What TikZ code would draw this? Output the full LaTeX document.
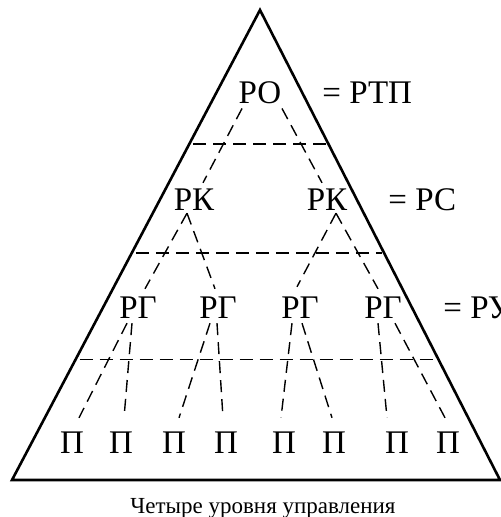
\documentclass[tikz,border=0pt]{standalone}
\usepackage{fontspec}
\setmainfont{Liberation Serif}
\usetikzlibrary{calc}

\begin{document}
\begin{tikzpicture}[
        x=0.5pt,y=-0.5pt,
        font=\fontsize{16.5}{19}\selectfont,
        unit/.style={inner sep=1pt},
        eqlabel/.style={anchor=west,inner sep=0pt},
        link/.style={line width=0.7pt,dash pattern=on 6pt off 3.5pt},
        level/.style={line width=0.7pt,dash pattern=on 6.5pt off 3.5pt},
        frame/.style={line width=1.3pt,line join=miter}
    ]
    \useasboundingbox (0,0) rectangle (500,517);

    \coordinate (apex) at (260,10);
    \coordinate (baseL) at (12,480);
    \coordinate (baseR) at (500,480);
    \draw[frame] (apex) -- (baseR) -- (baseL) -- cycle;

    % level borders
    \coordinate (l1) at ($(apex)!0.285!(baseL)+(4,0)$);
    \coordinate (r1) at ($(apex)!0.285!(baseR)+(-2,0)$);
    \coordinate (l2) at ($(apex)!0.517!(baseL)+(4,0)$);
    \coordinate (r2) at ($(apex)!0.517!(baseR)+(-2,0)$);
    \coordinate (l3) at ($(apex)!0.743!(baseL)+(4,0)$);
    \coordinate (r3) at ($(apex)!0.743!(baseR)+(-2,0)$);
    \draw[level] (l1) -- (r1);
    \draw[level] (l2) -- (r2);
    \draw[level] (l3) -- (r3);

    \node[unit] (ro) at (260,93) {РО};
    \node[unit] (rk1) at (194,200) {РК};
    \node[unit] (rk2) at (327,200) {РК};
    \node[unit] (rg1) at (138,308) {РГ};
    \node[unit] (rg2) at (218,308) {РГ};
    \node[unit] (rg3) at (300,308) {РГ};
    \node[unit] (rg4) at (383,308) {РГ};
    \node[unit] (p1) at (72,443) {П};
    \node[unit] (p2) at (121,443) {П};
    \node[unit] (p3) at (174,443) {П};
    \node[unit] (p4) at (226,443) {П};
    \node[unit] (p5) at (284,443) {П};
    \node[unit] (p6) at (334,443) {П};
    \node[unit] (p7) at (397,443) {П};
    \node[unit] (p8) at (448,443) {П};

    \node[eqlabel] (eqro) at (322,93) {= РТП};
    \node[eqlabel] (eqrk) at (388,200) {= РС};
    \node[eqlabel] (eqrg) at (443,308) {= РУ};

    \draw[link] ([xshift=-9pt,yshift=-1pt]ro.south) -- ([xshift=4.5pt,yshift=2pt]rk1.north);
    \draw[link] ([xshift=11pt,yshift=-1pt]ro.south) -- ([xshift=-2.5pt,yshift=2pt]rk2.north);

    \draw[link] ([xshift=-3.5pt]rk1.south) -- ([xshift=3.5pt,yshift=3pt]rg1.north);
    \draw[link] ([xshift=-3.5pt]rk1.south) -- ([xshift=-1.5pt,yshift=3pt]rg2.north);
    \draw[link] ([xshift=4.5pt]rk2.south) -- ([xshift=-1.5pt,yshift=4pt]rg3.north);
    \draw[link] ([xshift=4.5pt]rk2.south) -- ([xshift=-2.5pt,yshift=3pt]rg4.north);

    \draw[link] ([xshift=-5.5pt,yshift=-1pt]rg1.south) -- ([xshift=3.5pt,yshift=6pt]p1.north);
    \draw[link] ([xshift=-3pt,yshift=-1pt]rg1.south) -- ([xshift=1.5pt,yshift=6pt]p2.north);
    \draw[link] ([xshift=-4pt,yshift=-1pt]rg2.south) -- ([xshift=2.5pt,yshift=6pt]p3.north);
    \draw[link] ([xshift=-0.5pt,yshift=-1pt]rg2.south) -- ([xshift=-1.5pt,yshift=6pt]p4.north);
    \draw[link] ([xshift=-4pt,yshift=-1pt]rg3.south) -- ([xshift=-1.5pt,yshift=6pt]p5.north);
    \draw[link] ([xshift=1pt,yshift=-1pt]rg3.south) -- ([xshift=-1pt,yshift=6pt]p6.north);
    \draw[link] ([xshift=-2.5pt,yshift=-1pt]rg4.south) -- ([xshift=-5pt,yshift=6pt]p7.north);
    \draw[link] ([xshift=6pt,yshift=-1pt]rg4.south) -- ([xshift=-1.5pt,yshift=6pt]p8.north);

    \node[anchor=base,font=\fontsize{11.5}{14}\selectfont] (caption) at (263,513) {Четыре уровня управления};
\end{tikzpicture}
\end{document}
